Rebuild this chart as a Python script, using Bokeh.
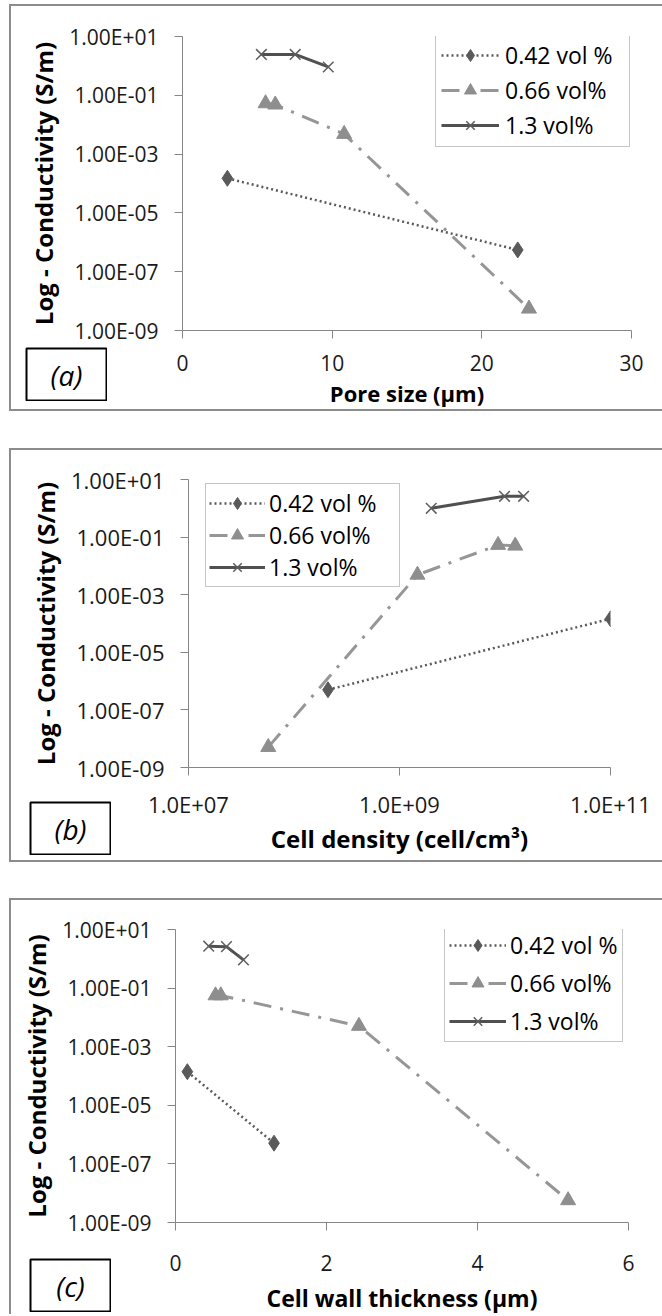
import math
from bokeh.plotting import figure
from bokeh.models import (FixedTicker, CustomJSTickFormatter, Legend, LegendItem,
                          Label, Range1d)
from bokeh.embed import file_html
from bokeh.resources import INLINE

# ---------------- data ----------------
series_names = ["0.42 vol %", "0.66 vol%", "1.3 vol%"]

# Panel (a): pore size (um)
pore_042 = [3.0, 22.4]
cond_a_042 = [1.5e-4, 5.5e-7]
pore_066 = [5.55, 6.2, 10.8, 23.15]
cond_a_066 = [0.053, 0.048, 0.0048, 5.5e-9]
pore_13 = [5.27, 7.53, 9.74]
cond_a_13 = [2.45, 2.45, 0.92]

# Panel (b): cell density (cell/cm3)
dens_042 = [2.1e8, 1.0e11]
cond_b_042 = [5.0e-7, 1.46e-4]
dens_066 = [5.7e7, 1.48e9, 8.6e9, 1.25e10]
cond_b_066 = [5.1e-9, 0.0049, 0.053, 0.05]
dens_13 = [2.0e9, 9.9e9, 1.5e10]
cond_b_13 = [1.0, 2.6, 2.6]

# Panel (c): cell wall thickness (um)
wall_042 = [0.157, 1.305]
cond_c_042 = [1.4e-4, 5.1e-7]
wall_066 = [0.53, 0.6, 2.43, 5.2]
cond_c_066 = [0.056, 0.056, 0.0051, 5.7e-9]
wall_13 = [0.44, 0.675, 0.9]
cond_c_13 = [2.7, 2.6, 0.92]

y_ticks = [1e-9, 1e-7, 1e-5, 1e-3, 1e-1, 1e1]
y_tick_labels = ["1.00E-09", "1.00E-07", "1.00E-05", "1.00E-03", "1.00E-01", "1.00E+01"]
x_ticks_a = [0, 10, 20, 30]
x_ticks_b = [1e7, 1e9, 1e11]
x_tick_labels_b = ["1.0E+07", "1.0E+09", "1.0E+11"]
x_ticks_c = [0, 2, 4, 6]

y_title = "Log - Conductivity (S/m)"
x_title_a = "Pore size (\u00b5m)"
x_title_b = "Cell density (cell/cm\u00b3)"
x_title_c = "Cell wall thickness (\u00b5m)"
panel_tags = ["(a)", "(b)", "(c)"]

FONT = "Open Sans"
AXIS_COLOR = "#868686"
BORDER = "2px solid #8c8c8c"

log_label_js = """
for (let i = 0; i < tvals.length; i++) {
  if (Math.abs(Math.log10(tvals[i]) - Math.log10(tick)) < 1e-6) return tlabels[i];
}
return "";
"""


def style_axis(ax, fs, title_fs):
    ax.axis_line_color = AXIS_COLOR
    ax.axis_line_width = 1
    ax.major_tick_line_color = AXIS_COLOR
    ax.major_tick_in = 0
    ax.major_tick_out = 8
    ax.minor_tick_line_color = None
    ax.major_label_text_font = FONT
    ax.major_label_text_font_size = fs
    ax.major_label_text_color = "#1a1a1a"
    ax.axis_label_text_font = FONT
    ax.axis_label_text_font_style = "bold"
    ax.axis_label_text_font_size = title_fs
    ax.axis_label_text_color = "#000000"


def build(W, H, L, R, T, B, x_type, x_rng, xs, ys, x_ticks, x_labels, x_title,
          tick_fs, xtitle_fs, xl_standoff, xt_standoff, leg_cfg, styles):
    p = figure(width=W, height=H, x_axis_type=x_type, y_axis_type="log",
               x_range=Range1d(*x_rng), y_range=Range1d(1e-9, 10),
               min_border_left=L, min_border_right=R, min_border_top=T,
               min_border_bottom=B, output_backend="svg", toolbar_location=None)
    p.outline_line_color = None
    p.grid.visible = False
    p.background_fill_color = "white"
    p.border_fill_color = "white"
    p.styles = styles

    style_axis(p.xaxis[0], tick_fs, xtitle_fs)
    style_axis(p.yaxis[0], tick_fs, "24px")
    p.yaxis[0].ticker = FixedTicker(ticks=y_ticks, minor_ticks=[])
    p.yaxis[0].formatter = CustomJSTickFormatter(
        args=dict(tvals=y_ticks, tlabels=y_tick_labels), code=log_label_js)
    p.yaxis[0].major_label_standoff = 16
    p.yaxis[0].axis_label = y_title
    p.yaxis[0].axis_label_standoff = 6

    p.xaxis[0].ticker = FixedTicker(ticks=x_ticks, minor_ticks=[])
    if x_labels is not None:
        p.xaxis[0].formatter = CustomJSTickFormatter(
            args=dict(tvals=x_ticks, tlabels=x_labels), code=log_label_js)
    p.xaxis[0].major_label_standoff = xl_standoff
    p.xaxis[0].axis_label = x_title
    p.xaxis[0].axis_label_standoff = xt_standoff

    # series
    c0, c1, c2 = "#5a5a5a", "#8e8e8e", "#505050"
    l0 = p.line(xs[0], ys[0], line_color=c0, line_width=2.5, line_dash="2 3")
    m0 = p.scatter(xs[0], ys[0], marker="diamond", size=16,
                   fill_color=c0, line_color=c0)
    l1 = p.line(xs[1], ys[1], line_color="#969696", line_width=3, line_dash="18 9 3 9")
    m1 = p.scatter(xs[1], ys[1], marker="triangle", size=15,
                   fill_color=c1, line_color=c1)
    l2 = p.line(xs[2], ys[2], line_color=c2, line_width=3)
    m2 = p.scatter(xs[2], ys[2], marker="x", size=15, line_color="#5e5e5e",
                   line_width=1.5)

    items = [LegendItem(label=series_names[0], renderers=[l0, m0]),
             LegendItem(label=series_names[1], renderers=[l1, m1]),
             LegendItem(label=series_names[2], renderers=[l2, m2])]
    leg = Legend(items=items, location=leg_cfg["loc"])
    leg.label_text_font = FONT
    leg.label_text_font_size = leg_cfg["fs"]
    leg.label_text_color = "#000000"
    leg.border_line_color = "#8c8c8c"
    leg.border_line_width = 1.5
    leg.background_fill_color = "white"
    leg.background_fill_alpha = 1
    leg.glyph_width = leg_cfg["gw"]
    leg.glyph_height = 30
    leg.label_height = 20
    leg.label_width = leg_cfg["lw"]
    leg.label_standoff = leg_cfg["so"]
    leg.padding = leg_cfg["pad"]
    leg.spacing = leg_cfg["sp"]
    leg.margin = 0
    p.add_layout(leg)
    return p


def panel_style(left, top, bottom_border=True):
    s = {"position": "absolute", "left": f"{left}px", "top": f"{top}px",
         "border-top": BORDER, "border-left": BORDER}
    if bottom_border:
        s["border-bottom"] = BORDER
    return s


def tag_box(tag, left, top):
    t = figure(width=82, height=54, x_range=Range1d(0, 1), y_range=Range1d(0, 1),
               x_axis_location=None, y_axis_location=None, min_border=1,
               output_backend="svg", toolbar_location=None)
    t.grid.visible = False
    t.outline_line_color = "#000000"
    t.outline_line_width = 2
    t.add_layout(Label(x=0.5, y=0.5, text=tag, text_font=FONT,
                       text_font_style="italic", text_font_size="28px",
                       text_align="center", text_baseline="middle",
                       text_color="#000000"))
    t.styles = {"position": "absolute", "left": f"{left}px", "top": f"{top}px"}
    return t


pa = build(653, 407, 171, 33, 30, 83, "linear", (0, 30),
           [pore_042, pore_066, pore_13], [cond_a_042, cond_a_066, cond_a_13],
           x_ticks_a, None, x_title_a, "21px", "22px", 16, 4,
           dict(loc=(253, 183), fs="23px", gw=58, lw=119, so=6, pad=5, sp=3),
           panel_style(9, 4))

pb = build(653, 414, 177, 54, 29, 97, "log", (1e7, 1e11),
           [dens_042, dens_066, dens_13], [cond_b_042, cond_b_066, cond_b_13],
           x_ticks_b, x_tick_labels_b, x_title_b, "22px", "24px", 13, 0,
           dict(loc=(17, 180), fs="23px", gw=56, lw=127, so=4, pad=3, sp=0),
           panel_style(9, 448))

pc = build(653, 416, 164, 36, 29, 92, "linear", (0, 6),
           [wall_042, wall_066, wall_13], [cond_c_042, cond_c_066, cond_c_13],
           x_ticks_c, None, x_title_c, "21px", "23px", 24, 8,
           dict(loc=(269, 180), fs="23px", gw=57, lw=108, so=4, pad=4, sp=6),
           panel_style(9, 898, bottom_border=False))

ta = tag_box(panel_tags[0], 25, 347)
tb = tag_box(panel_tags[1], 29, 801)
tc = tag_box(panel_tags[2], 29, 1258)

open("out.html", "w").write(file_html([pa, pb, pc, ta, tb, tc], INLINE))
